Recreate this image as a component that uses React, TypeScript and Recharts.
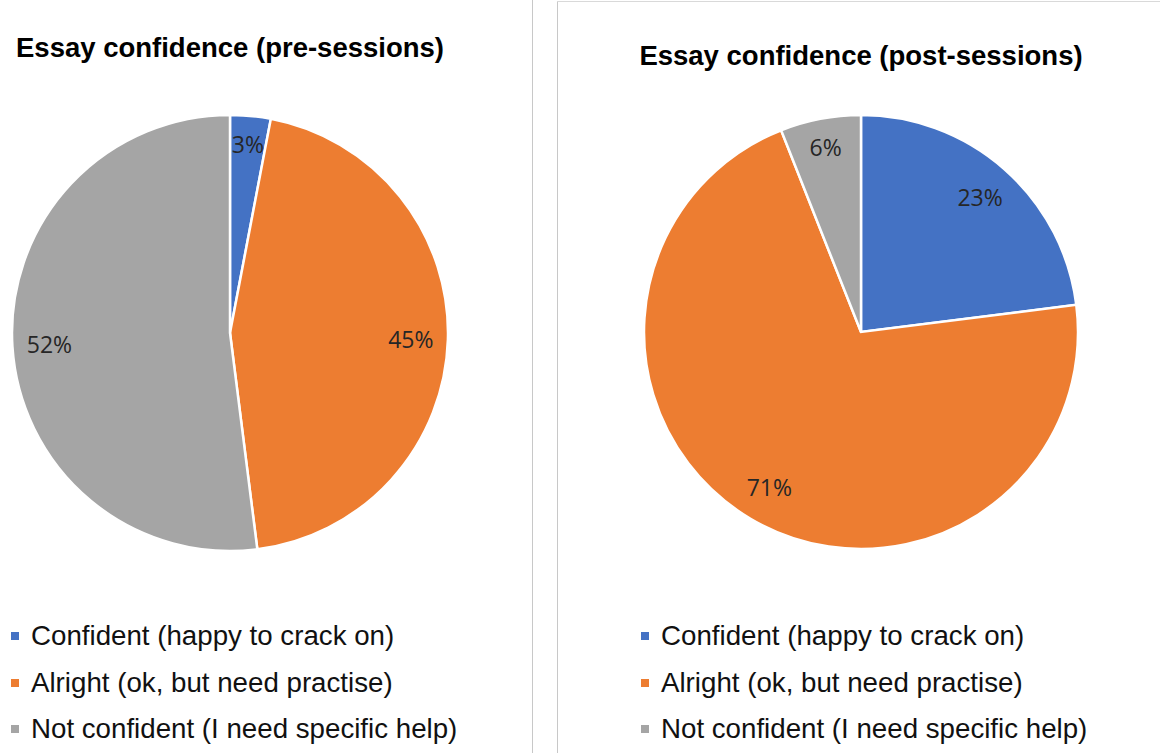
import { Pie, PieChart, Cell } from "recharts";

const categories = [
  "Confident (happy to crack on)",
  "Alright (ok, but need practise)",
  "Not confident (I need specific help)",
];
const colors = ["#4472C4", "#ED7D31", "#A5A5A5"];

const preValues = [3, 45, 52];
const postValues = [23, 71, 6];

const preTitle = "Essay confidence (pre-sessions)";
const postTitle = "Essay confidence (post-sessions)";

const RAD = Math.PI / 180;
const MARGIN = { top: 0, right: 0, bottom: 0, left: 0 };

function SliceLabel(props: any) {
  const { cx, cy, midAngle, outerRadius, percent, value } = props;
  const r = outerRadius * (percent < 0.1 ? 0.87 : 0.83);
  const x = cx + r * Math.cos(-midAngle * RAD);
  const y = cy + r * Math.sin(-midAngle * RAD);
  return (
    <text
      x={x}
      y={y}
      textAnchor="middle"
      dominantBaseline="central"
      fill="#262626"
      fontFamily="'Open Sans', sans-serif"
      fontSize={23}
    >
      {value}%
    </text>
  );
}

function LegendList({ left, top, markerLeft }: { left: number; top: number; markerLeft: number }) {
  return (
    <div
      style={{
        position: "absolute",
        left,
        top,
        fontFamily: "'Liberation Sans', Arial, sans-serif",
        fontSize: 27.7,
        color: "#111",
      }}
    >
      {categories.map((name, i) => (
        <div key={name} style={{ display: "flex", alignItems: "center", height: 46.5, position: "relative" }}>
          <span
            style={{
              position: "absolute",
              left: markerLeft,
              width: 8,
              height: 8,
              background: colors[i],
            }}
          />
          <span style={{ marginLeft: markerLeft + 20, whiteSpace: "nowrap" }}>{name}</span>
        </div>
      ))}
    </div>
  );
}

function PiePanel({
  title,
  values,
  left,
  width,
  cx,
  cy,
  radius,
  titleTop,
}: {
  title: string;
  values: number[];
  left: number;
  width: number;
  cx: number;
  cy: number;
  radius: number;
  titleTop: number;
}) {
  const data = categories.map((name, i) => ({ name, value: values[i] }));
  return (
    <div style={{ position: "absolute", left, top: 0, width, height: 600 }}>
      <PieChart width={width} height={600} margin={MARGIN}>
        <Pie
          data={data}
          dataKey="value"
          nameKey="name"
          cx={cx}
          cy={cy}
          outerRadius={radius}
          startAngle={90}
          endAngle={-270}
          stroke="#fff"
          strokeWidth={2.5}
          label={SliceLabel}
          labelLine={false}
          isAnimationActive={false}
        >
          {data.map((d, i) => (
            <Cell key={d.name} fill={colors[i]} />
          ))}
        </Pie>
      </PieChart>
      <div
        style={{
          position: "absolute",
          left: cx - 250,
          width: 500,
          top: titleTop,
          textAlign: "center",
          fontFamily: "'Liberation Sans', Arial, sans-serif",
          fontWeight: "bold",
          fontSize: 27.5,
          color: "#000",
          whiteSpace: "nowrap",
        }}
      >
        {title}
      </div>
    </div>
  );
}

export default function App() {
  return (
    <div
      style={{
        position: "absolute",
        left: 0,
        top: 0,
        width: 1160,
        height: 753,
        background: "#fff",
        overflow: "hidden",
      }}
    >
      <div style={{ position: "absolute", left: 532, top: 0, width: 1, height: 753, background: "#c8c8c8" }} />
      <div style={{ position: "absolute", left: 557, top: 1, width: 1, height: 752, background: "#c8c8c8" }} />
      <div style={{ position: "absolute", left: 557, top: 1, width: 603, height: 1, background: "#d9d9d9" }} />
      <PiePanel title={preTitle} values={preValues} left={0} width={532} cx={230} cy={333} radius={218} titleTop={32} />
      <PiePanel title={postTitle} values={postValues} left={558} width={602} cx={861 - 558} cy={332} radius={217} titleTop={40} />
      <LegendList left={0} top={613} markerLeft={11} />
      <LegendList left={558} top={613} markerLeft={641 - 558} />
    </div>
  );
}
